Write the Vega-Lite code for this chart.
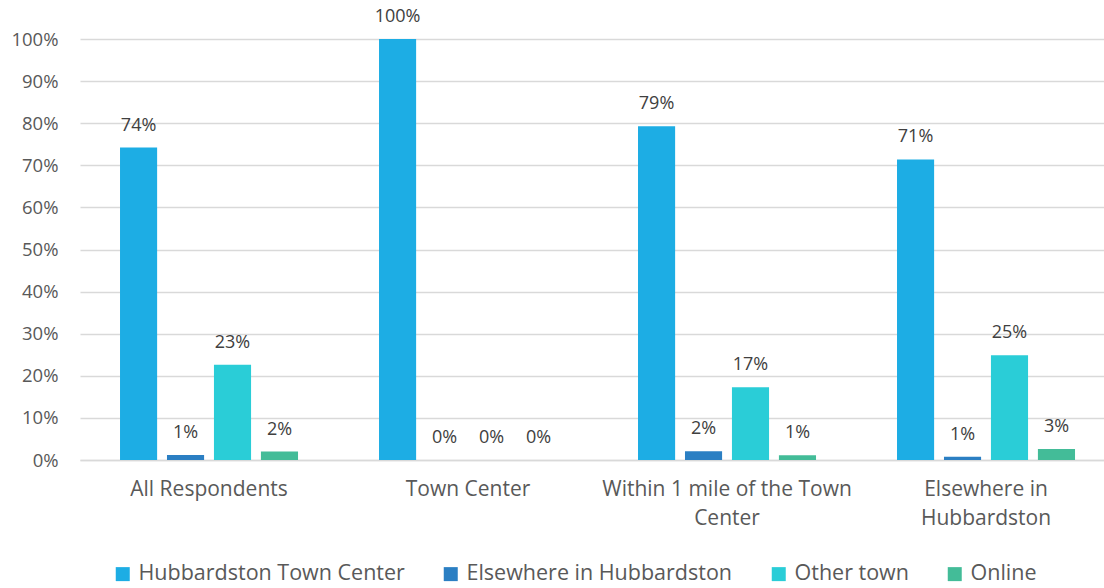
{
  "$schema": "https://vega.github.io/schema/vega-lite/v6.json",
  "width": 1024,
  "height": 421,
  "autosize": {"type": "none"},
  "padding": {"left": 80, "top": 39, "right": 0, "bottom": 128},
  "background": "white",
  "config": {
    "view": {"stroke": null},
    "font": "Open Sans"
  },
  "data": {
    "values": [
      {"group": "All Respondents", "series": "Hubbardston Town Center", "value": 0.742},
      {"group": "All Respondents", "series": "Elsewhere in Hubbardston", "value": 0.012},
      {"group": "All Respondents", "series": "Other town", "value": 0.226},
      {"group": "All Respondents", "series": "Online", "value": 0.020},
      {"group": "Town Center", "series": "Hubbardston Town Center", "value": 1.0},
      {"group": "Town Center", "series": "Elsewhere in Hubbardston", "value": 0.0},
      {"group": "Town Center", "series": "Other town", "value": 0.0},
      {"group": "Town Center", "series": "Online", "value": 0.0},
      {"group": "Within 1 mile of the Town Center", "series": "Hubbardston Town Center", "value": 0.793},
      {"group": "Within 1 mile of the Town Center", "series": "Elsewhere in Hubbardston", "value": 0.021},
      {"group": "Within 1 mile of the Town Center", "series": "Other town", "value": 0.173},
      {"group": "Within 1 mile of the Town Center", "series": "Online", "value": 0.011},
      {"group": "Elsewhere in Hubbardston", "series": "Hubbardston Town Center", "value": 0.714},
      {"group": "Elsewhere in Hubbardston", "series": "Elsewhere in Hubbardston", "value": 0.008},
      {"group": "Elsewhere in Hubbardston", "series": "Other town", "value": 0.249},
      {"group": "Elsewhere in Hubbardston", "series": "Online", "value": 0.026}
    ]
  },
  "encoding": {
    "x": {
      "field": "group",
      "type": "nominal",
      "sort": ["All Respondents", "Town Center", "Within 1 mile of the Town Center", "Elsewhere in Hubbardston"],
      "scale": {"paddingInner": 0.3127, "paddingOuter": 0.1332, "align": 0.58},
      "axis": {
        "title": null,
        "labelAngle": 0,
        "ticks": false,
        "domain": true,
        "domainColor": "#d9d9d9",
        "domainWidth": 1.5,
        "labelFontSize": 21,
        "labelColor": "#595959",
        "labelPadding": 18,
        "labelLineHeight": 29,
        "labelBaseline": "top",
        "labelLimit": 400,
        "labelExpr": "datum.label == 'Within 1 mile of the Town Center' ? ['Within 1 mile of the Town', 'Center'] : datum.label == 'Elsewhere in Hubbardston' ? ['Elsewhere in', 'Hubbardston'] : datum.label"
      }
    },
    "xOffset": {
      "field": "series",
      "type": "nominal",
      "sort": ["Hubbardston Town Center", "Elsewhere in Hubbardston", "Other town", "Online"],
      "scale": {"paddingInner": 0.21, "paddingOuter": 0}
    },
    "y": {
      "field": "value",
      "type": "quantitative",
      "scale": {"domain": [0, 1], "nice": false},
      "axis": {
        "title": null,
        "format": ".0%",
        "values": [0, 0.1, 0.2, 0.3, 0.4, 0.5, 0.6, 0.7, 0.8, 0.9, 1.0],
        "ticks": false,
        "domain": false,
        "grid": true,
        "gridColor": "#d9d9d9",
        "gridWidth": 1.5,
        "labelFontSize": 18.5,
        "labelColor": "#595959",
        "labelPadding": 22
      }
    }
  },
  "layer": [
    {
      "mark": {"type": "bar"},
      "encoding": {
        "color": {
          "field": "series",
          "type": "nominal",
          "sort": ["Hubbardston Town Center", "Elsewhere in Hubbardston", "Other town", "Online"],
          "scale": {
            "domain": ["Hubbardston Town Center", "Elsewhere in Hubbardston", "Other town", "Online"],
            "range": ["#1DADE4", "#2B7FC3", "#2ACDD7", "#43BC98"]
          },
          "legend": {
            "title": null,
            "orient": "none",
            "legendX": 32,
            "legendY": 524,
            "padding": 0,
            "direction": "horizontal",
            "symbolType": "square",
            "symbolSize": 196,
            "symbolStrokeWidth": 0,
            "labelFontSize": 21.5,
            "labelColor": "#595959",
            "labelOffset": 5,
            "labelLimit": 400,
            "columnPadding": 35
          }
        }
      }
    },
    {
      "mark": {"type": "text", "baseline": "bottom", "dy": -13, "fontSize": 18, "color": "#404040"},
      "encoding": {
        "text": {"field": "value", "type": "quantitative", "format": ".0%"}
      }
    }
  ]
}
